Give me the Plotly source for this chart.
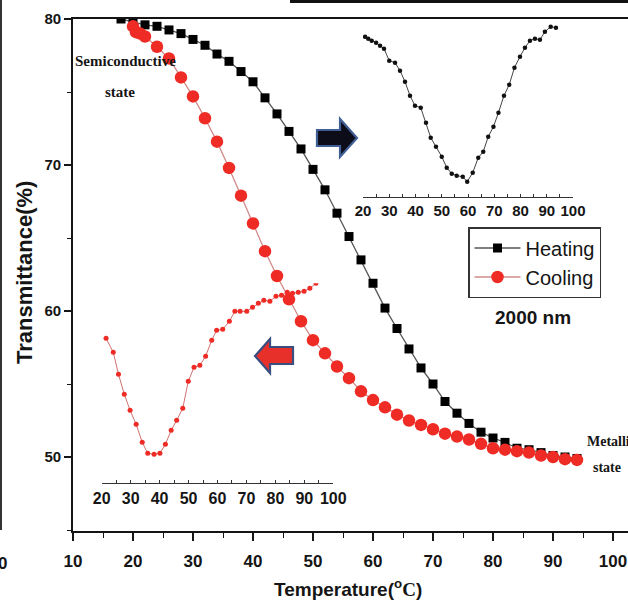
import plotly.graph_objects as go

# ---------------- data ----------------
heat_T = [18, 20, 22, 24, 26, 28, 30, 32, 34, 36, 38, 40, 42, 44, 46, 48, 50, 52, 54, 56,
          58, 60, 62, 64, 66, 68, 70, 72, 74, 76, 78, 80, 82, 84, 86, 88, 90, 92, 94]
heat_v = [80.0, 79.8, 79.6, 79.5, 79.25, 79.0, 78.6, 78.2, 77.6, 77.1, 76.4, 75.7,
          74.6, 73.5, 72.3, 71.1, 69.7, 68.3, 66.7, 65.1, 63.5, 61.9, 60.2, 58.8,
          57.4, 56.1, 55.0, 53.8, 53.0, 52.3, 51.7, 51.3, 51.0, 50.6, 50.5, 50.3,
          50.1, 50.0, 49.9]

cool_T = [20, 20.5, 21.2, 22, 24, 26, 28, 30, 32, 34, 36, 38, 40, 42, 44, 46, 48, 50, 52, 54,
          56, 58, 60, 62, 64, 66, 68, 70, 72, 74, 76, 78, 80, 82, 84, 86, 88, 90, 92, 94]
cool_v = [79.5, 79.1, 79.0, 78.8, 78.1, 77.3, 76.0, 74.7, 73.2, 71.6, 69.8, 67.9,
          66.0, 64.1, 62.4, 60.8, 59.3, 58.0, 57.1, 56.2, 55.4, 54.5, 53.9, 53.4,
          52.9, 52.5, 52.2, 51.9, 51.6, 51.4, 51.2, 50.9, 50.6, 50.5, 50.4, 50.3,
          50.1, 50.0, 49.85, 49.8]

# inset (heating derivative, arbitrary units)
ins1_T = [20.8, 22.0, 23.3, 25.0, 26.5, 28.0, 30.0, 32.2, 34.1, 36.0, 37.9, 39.8,
          42.0, 44.0, 45.8, 47.8, 50.0, 51.9, 53.8, 55.7, 58.0, 59.7, 61.8, 63.9,
          65.8, 67.7, 69.7, 71.6, 73.7, 75.7, 77.7, 79.8, 81.7, 83.6, 85.5, 87.4,
          89.3, 91.5, 93.5]
ins1_v = [160, 158, 156, 154, 151, 148, 136, 134, 126, 115, 101, 91, 89, 74, 59, 50,
          40, 29, 23, 21, 20, 15, 24, 39, 45, 60, 70, 84, 101, 112, 129, 140, 149,
          156, 158, 157, 165, 170, 169]

# inset (cooling derivative, arbitrary units)
ins2_T = [21.5, 24.0, 25.8, 27.8, 29.8, 31.9, 34.0, 35.9, 38.1, 40.1, 42.0, 44.0,
          45.9, 48.0, 49.9, 51.9, 53.9, 55.9, 58.0, 59.7, 61.8, 64.1, 66.0, 67.8,
          70.1, 72.1, 74.1, 76.0, 78.1, 80.2, 82.1, 84.1, 85.9, 87.9, 89.9, 91.9, 94.0]
ins2_v = [145, 131, 109, 89, 73, 59, 41, 30, 29, 30, 39, 53, 63, 75, 102, 116, 118,
          127, 143, 153, 154, 162, 172, 172, 172, 176, 180, 183, 182, 187, 188, 191,
          190, 191, 192, 195, 200]

x_ticks = [10, 20, 30, 40, 50, 60, 70, 80, 90, 100]
y_ticks = [50, 60, 70, 80]
inset_ticks = [20, 30, 40, 50, 60, 70, 80, 90, 100]

# ---------------- layout geometry (pixels) ----------------
W, H = 628, 601
L, T, R, B = 73, 19, 628, 531
PW, PH = R - L, B - T


def px(x):
    return (x - L) / PW


def py(y):
    return (B - y) / PH


SANS = "Liberation Sans, Arial, sans-serif"
SERIF = "Liberation Serif, Times New Roman, serif"
INK = "#151515"
RED = "#ee2b24"

fig = go.Figure()

# insets first
fig.add_trace(go.Scatter(x=ins1_T, y=ins1_v, xaxis="x2", yaxis="y2", mode="lines+markers",
                         line=dict(color="#444444", width=1),
                         marker=dict(color="#111111", size=4.5), showlegend=False,
                         hoverinfo="skip"))
fig.add_trace(go.Scatter(x=ins2_T, y=ins2_v, xaxis="x3", yaxis="y3", mode="lines+markers",
                         line=dict(color="#d07070", width=1),
                         marker=dict(color=RED, size=5), showlegend=False,
                         hoverinfo="skip"))

fig.add_trace(go.Scatter(x=heat_T, y=heat_v, name="Heating", mode="lines+markers",
                         line=dict(color="#555555", width=1.3),
                         marker=dict(symbol="square", color="#000000", size=9)))
fig.add_trace(go.Scatter(x=cool_T, y=cool_v, name="Cooling", mode="lines+markers",
                         line=dict(color="#d08a8a", width=1.3),
                         marker=dict(symbol="circle", color=RED, size=12.5)))

tickfont_main = dict(family=SANS, size=17, color=INK, weight="bold")

fig.update_layout(
    width=W, height=H,
    margin=dict(l=L, r=W - R, t=T, b=H - B, pad=0, autoexpand=False),
    paper_bgcolor="white", plot_bgcolor="rgba(0,0,0,0)",
    xaxis=dict(range=[10, 10 + PW / 6.0], tickvals=x_ticks, showgrid=False, zeroline=False,
               showline=True, linecolor=INK, linewidth=1.8, mirror=True, automargin=False,
               ticks="outside", ticklen=8, tickwidth=1.6, tickcolor=INK,
               minor=dict(dtick=5, ticks="outside", ticklen=5, tickwidth=1.4, tickcolor=INK),
               tickfont=tickfont_main, ticklabelstandoff=6),
    yaxis=dict(range=[80 - PH / 14.6, 80], tickvals=y_ticks, showgrid=False, zeroline=False,
               showline=True, linecolor=INK, linewidth=1.8, automargin=False,
               ticks="outside", ticklen=7, tickwidth=1.6, tickcolor=INK,
               minor=dict(dtick=5, ticks="outside", ticklen=4, tickwidth=1.4, tickcolor=INK),
               tickfont=dict(family=SANS, size=15, color=INK, weight="bold")),
    xaxis2=dict(domain=[px(363), px(573)], anchor="y2", range=[20, 100], tickvals=inset_ticks,
                showgrid=False, zeroline=False, showline=True, linecolor="#333333", linewidth=1.2,
                ticks="inside", ticklen=3, tickcolor="#333333", automargin=False,
                minor=dict(dtick=5, ticks="inside", ticklen=3, tickcolor="#333333"),
                tickfont=dict(family=SANS, size=15, color=INK, weight="bold")),
    yaxis2=dict(domain=[py(196.7), 1.0], anchor="x2", range=[0, 196.7 - T], visible=False),
    xaxis3=dict(domain=[px(101.7), px(333.3)], anchor="y3", range=[20, 100], tickvals=inset_ticks,
                showgrid=False, zeroline=False, showline=True, linecolor="#333333", linewidth=1.2,
                ticks="inside", ticklen=3, tickcolor="#333333", automargin=False,
                minor=dict(dtick=5, ticks="inside", ticklen=3, tickcolor="#333333"),
                tickfont=dict(family=SANS, size=16, color=INK, weight="bold")),
    yaxis3=dict(domain=[py(483.3), py(283.3)], anchor="x3", range=[0, 200], visible=False),
    legend=dict(x=px(468), y=py(227), xanchor="left", yanchor="top",
                bgcolor="white", bordercolor="#333333", borderwidth=1.5,
                itemwidth=46, tracegroupgap=0,
                font=dict(family=SANS, size=20, color=INK)),
    showlegend=True,
)

ann = [
    dict(x=px(24), y=py(273), text="Transmittance(%)", textangle=-90,
         font=dict(family=SANS, size=22, color=INK, weight="bold")),
    dict(x=px(348), y=py(588),
         text="Temperature(<sup>o</sup><span style='font-family:Liberation Serif'>C</span>)",
         font=dict(family=SANS, size=19, color=INK, weight="bold")),
    dict(x=px(125), y=py(61), text="Semiconductive",
         font=dict(family=SERIF, size=15, color=INK, weight="bold")),
    dict(x=px(120), y=py(92), text="state",
         font=dict(family=SERIF, size=15, color=INK, weight="bold")),
    dict(x=px(585), y=py(441), text="Metallic", xanchor="left",
         font=dict(family=SERIF, size=14, color=INK, weight="bold")),
    dict(x=px(607), y=py(467), text="state",
         font=dict(family=SERIF, size=14, color=INK, weight="bold")),
    dict(x=px(533), y=py(317), text="2000 nm",
         font=dict(family=SANS, size=19, color=INK, weight="bold")),
    dict(x=px(9), y=py(563), text="100", xanchor="right",
         font=dict(family=SANS, size=17, color=INK, weight="bold")),
]
for a in ann:
    a.setdefault("xanchor", "center")
    a.update(xref="paper", yref="paper", showarrow=False, yanchor="middle")
fig.update_layout(annotations=ann)


def path(points):
    s = "M " + " L ".join(f"{px(a):.4f},{py(b):.4f}" for a, b in points) + " Z"
    return s


right_arrow = [(317, 130), (340, 130), (340, 119), (357, 138), (340, 157), (340, 146), (317, 146)]
left_arrow = [(255, 356), (270, 339), (270, 347), (293, 347), (293, 364), (270, 364), (270, 373)]

shapes = [
    dict(type="path", path=path(right_arrow), fillcolor="#0d0d1a",
         line=dict(color="#3f5f95", width=2.2)),
    dict(type="path", path=path(left_arrow), fillcolor="#e8302a",
         line=dict(color="#3a4f80", width=2.2)),
    # neighbouring panel frame remnants
    dict(type="line", x0=px(290), x1=px(640), y0=py(1.5), y1=py(1.5),
         line=dict(color="#111111", width=3)),
    dict(type="line", x0=px(1), x1=px(1), y0=py(0), y1=py(530),
         line=dict(color="#333333", width=2)),
]
for s in shapes:
    s.update(xref="paper", yref="paper")
fig.update_layout(shapes=shapes)

fig.write_html("out.html")
